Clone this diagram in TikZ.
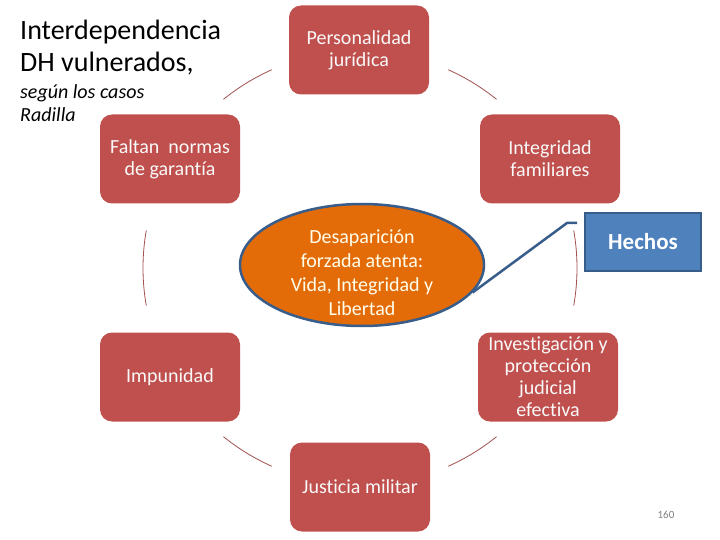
\documentclass[tikz,border=0pt]{standalone}
\usepackage{fontspec}
\setmainfont{Carlito}[Ligatures=NoCommon]
\usetikzlibrary{positioning,shapes.geometric}

\definecolor{boxred}{HTML}{C0504D}
\definecolor{ringred}{HTML}{A0504E}
\definecolor{hechosblue}{HTML}{4F81BD}
\definecolor{edgeblue}{HTML}{385D8A}
\definecolor{centerorange}{HTML}{E36C09}

\begin{document}
\begin{tikzpicture}[
  x=1pt, y=-1pt,
  derecho/.style={rectangle, rounded corners=12pt, fill=boxred, text=white!95!gray,
    minimum width=140pt, minimum height=89pt, align=center,
    font=\fontsize{20}{22}\selectfont},
  centro/.style={ellipse, draw=edgeblue, line width=2.5pt, fill=centerorange,
    minimum width=244pt, minimum height=122pt, inner sep=0pt},
  hechosbox/.style={rectangle, draw=edgeblue, line width=2pt, fill=hechosblue,
    text=white, minimum width=116pt, minimum height=58pt,
    font=\fontsize{23}{26}\selectfont\bfseries},
  ring/.style={draw=ringred, line width=0.8pt},
  callout/.style={draw=edgeblue, line width=2.5pt}
]
\useasboundingbox (0,0) rectangle (720,540);

\node[anchor=north west, inner sep=0pt, align=left,
  font=\fontsize{28}{32}\selectfont] (titulo) at (20,20)
  {Interdependencia\\DH vulnerados,};
\node[below=9pt of titulo.south west, anchor=north west, inner sep=0pt,
  align=left, font=\fontsize{20}{23}\selectfont\itshape] (subtitulo)
  {según los casos\\Radilla};

\coordinate (hub) at (360,268);

% los derechos alrededor
\node[derecho] (persona)  at (359,50)  {Personalidad\\jurídica};
\node[derecho] (normas)   at (170,159) {Faltan\ \ normas\\de garantía};
\node[derecho] (integ)    at (550,159) {Integridad\\familiares};
\node[derecho] (impun)    at (170,377) {Impunidad};
\node[derecho] (investig) at (548,377) {Investigación y\\protección\\judicial\\efectiva};
\node[derecho] (justicia) at (360,487) {Justicia militar};

\foreach \a/\b in {-129/-114, -66/-51, -10/10, 51/66, 114/129, 170/190}
  \draw[ring] (hub) ++(\a:217) arc[start angle=\a, end angle=\b, radius=217];

\node[centro] (desap) at (362,265) {};
\node[align=center, text=white!92!yellow, font=\fontsize{20}{24}\selectfont]
  (desaptexto) at (362,273)
  {Desaparición\\forzada atenta:\\Vida, Integridad y\\Libertad};

\node[hechosbox] (hechos) at (643,242) {Hechos};
\coordinate (stub) at (577,223);
\draw[callout] (stub) -- ++(-10,0) -- (desap.-14);

\node[text=gray, font=\fontsize{11}{13}\selectfont] (pagina) at (666,515) {160};
\end{tikzpicture}
\end{document}
